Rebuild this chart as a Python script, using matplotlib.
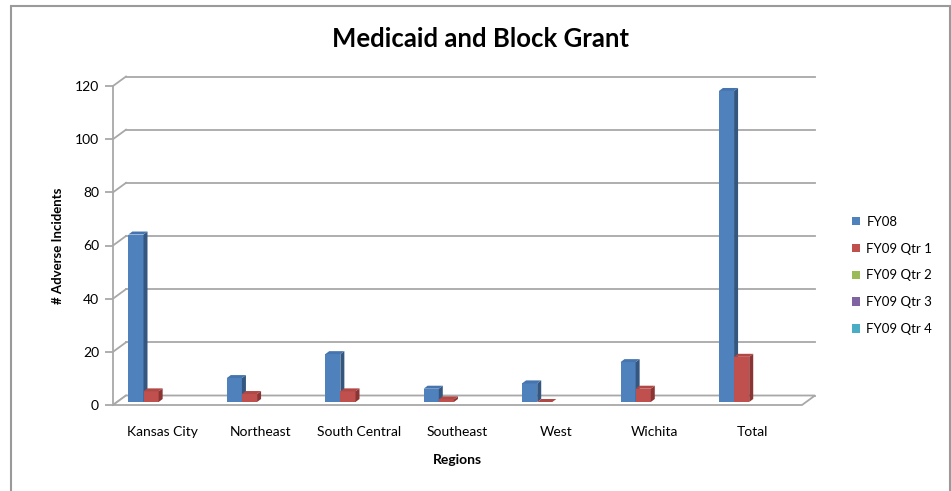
import numpy as np
import matplotlib
matplotlib.use("Agg")
import matplotlib.pyplot as plt
from matplotlib.patches import Polygon, Rectangle

plt.rcParams["font.family"] = ["Lato", "DejaVu Sans"]

REGIONS = ["Kansas City", "Northeast", "South Central", "Southeast", "West", "Wichita", "Total"]
SERIES = ["FY08", "FY09 Qtr 1", "FY09 Qtr 2", "FY09 Qtr 3", "FY09 Qtr 4"]
FY08 = [63, 9, 18, 5, 7, 15, 117]
FY09_Q1 = [4, 3, 4, 1, 0, 5, 17]
FY09_Q2 = [np.nan] * 7
FY09_Q3 = [np.nan] * 7
FY09_Q4 = [np.nan] * 7
Y_TICKS = [0, 20, 40, 60, 80, 100, 120]

FRONT = ["#4F81BD", "#C0504D", "#9BBB59", "#8064A2", "#4BACC6"]
SIDE = ["#34567F", "#8A3533", "#6E8A3C", "#5A4676", "#33788B"]
TOP = ["#4674AE", "#B04845", "#8CAB4F", "#735A93", "#449CB4"]
GRID = "#a8a8a8"

W, H = 951, 491
fig = plt.figure(figsize=(W / 100, H / 100), dpi=100)
fig.patches.append(Rectangle((11 / W, -0.05), (950 - 11) / W, 1.05 - 6 / H,
                             transform=fig.transFigure, fill=False,
                             edgecolor="#9a9a9a", linewidth=1.5))

ax_l, ax_r, ax_t, ax_b = 113, 802, 86, 405
ax = fig.add_axes([ax_l / W, 1 - ax_b / H, (ax_r - ax_l) / W, (ax_b - ax_t) / H])
ax.set_xlim(-0.5, 6.5)
ax.set_ylim(0, 120)
ax.patch.set_alpha(0)

px_x = (ax_r - ax_l) / 7.0
px_y = (ax_b - ax_t) / 120.0
DX, DY = 13 / px_x, 9.5 / px_y          # wall depth
BX, BY = 4 / px_x, 3 / px_y             # bar front offset
SX, SY = 4 / px_x, 3 / px_y             # bar own depth

# back wall gridlines + diagonals
for v in Y_TICKS:
    ax.plot([-0.5 + DX, 6.5 + DX], [v + DY, v + DY], color=GRID, lw=1.3,
            clip_on=False, zorder=1)
    ax.plot([-0.5, -0.5 + DX], [v, v + DY], color=GRID, lw=1.3,
            clip_on=False, zorder=1)

# floor
ax.add_patch(Polygon([(-0.5, 0), (6.5, 0), (6.5 + DX, DY), (-0.5 + DX, DY)],
                     closed=True, facecolor="white", edgecolor=GRID, lw=1.3,
                     clip_on=False, zorder=2))

x = np.arange(len(REGIONS))
w = 1 / 6.5
data = [FY08, FY09_Q1, FY09_Q2, FY09_Q3, FY09_Q4]
handles = []
for i, vals in enumerate(data):
    pos = x + (i - 2) * w + BX
    bars = ax.bar(pos, vals, width=w, bottom=BY, color=FRONT[i], zorder=4 + i,
                  clip_on=False, label=SERIES[i])
    handles.append(bars)
    for p, v in zip(pos, vals):
        if np.isnan(v):
            continue
        x0, x1 = p - w / 2, p + w / 2
        top = BY + v
        ax.add_patch(Polygon([(x1, BY), (x1 + SX, BY + SY), (x1 + SX, top + SY), (x1, top)],
                             closed=True, facecolor=SIDE[i], edgecolor="none",
                             clip_on=False, zorder=4 + i))
        ax.add_patch(Polygon([(x0, top), (x1, top), (x1 + SX, top + SY), (x0 + SX, top + SY)],
                             closed=True, facecolor=TOP[i], edgecolor="none",
                             clip_on=False, zorder=4 + i))

for s in ["top", "right", "bottom"]:
    ax.spines[s].set_visible(False)
ax.spines["left"].set_color(GRID)
ax.spines["left"].set_linewidth(1.3)
ax.set_yticks(Y_TICKS)
ax.tick_params(axis="y", length=6, width=1.3, color=GRID, labelsize=10, pad=4)
ax.set_xticks(x)
ax.set_xticklabels(REGIONS, fontsize=10)
ax.tick_params(axis="x", length=0, pad=15)

ax.set_ylabel("# Adverse Incidents", fontsize=9.5, fontweight="bold", labelpad=8)
ax.set_xlabel("Regions", fontsize=10, fontweight="bold", labelpad=12)

fig.text(480 / W, 1 - 39 / H, "Medicaid and Block Grant", ha="center", va="center",
         fontsize=18.5, fontweight="bold")

fig.legend(handles=handles, labels=SERIES, loc="upper left",
           bbox_to_anchor=(840 / W, 1 - 204 / H), frameon=False, fontsize=9.5,
           handlelength=0.6, handleheight=0.6, handletextpad=0.5, labelspacing=1.12)

fig.savefig("out.png", dpi=100)
